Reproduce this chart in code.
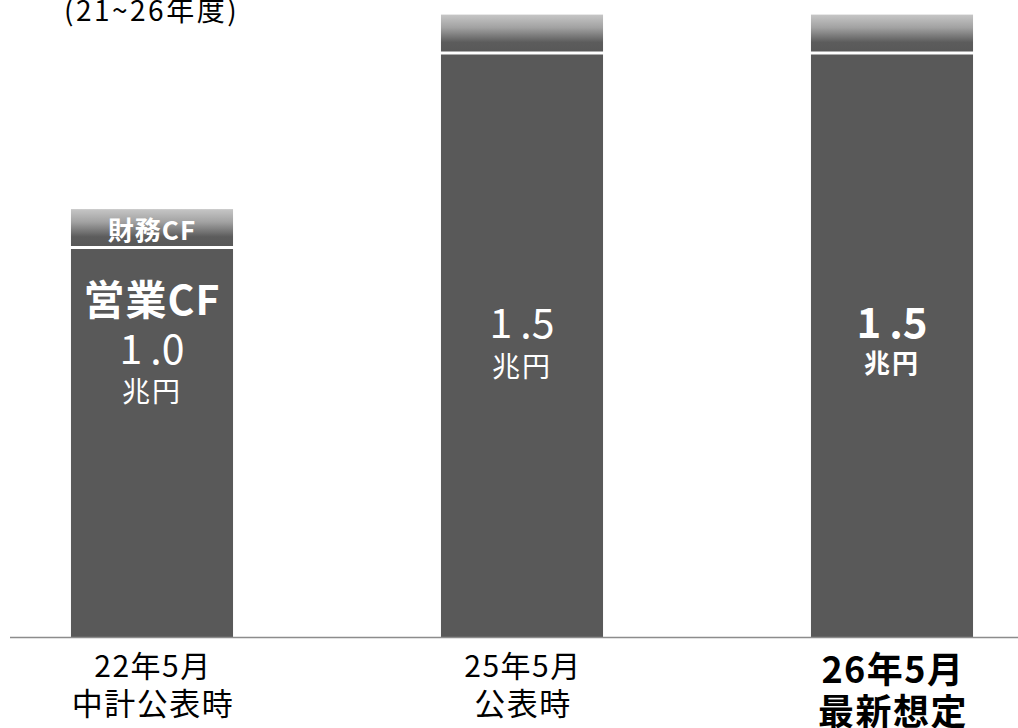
<!DOCTYPE html>
<html>
<head>
<meta charset="utf-8">
<script src="https://cdn.jsdelivr.net/npm/d3@7"></script>
<style>
  body { margin: 0; background: #fff; }
  text { font-family: "Noto Sans CJK JP", "Noto Sans", sans-serif; }
</style>
</head>
<body>
<script>
const categories = ["22年5月", "25年5月", "26年5月"];
const subLabels = ["中計公表時", "公表時", "最新想定"];
const operatingCF = [1.0, 1.5, 1.5];
const financeCF = [0.1, 0.1, 0.1];
const valueLabels = ["1.0", "1.5", "1.5"];
const emphasis = [false, false, true];

const width = 1018;
const height = 728;
const baseY = 637;

const svg = d3
  .select("body")
  .append("svg")
  .attr("width", width)
  .attr("height", height);

const defs = svg.append("defs");
const grad = defs
  .append("linearGradient")
  .attr("id", "finGrad")
  .attr("x1", 0)
  .attr("y1", 0)
  .attr("x2", 0)
  .attr("y2", 1);
grad.append("stop").attr("offset", "0%").attr("stop-color", "#c6c6c6");
grad.append("stop").attr("offset", "35%").attr("stop-color", "#a2a2a2");
grad.append("stop").attr("offset", "75%").attr("stop-color", "#5c5c5c");
grad.append("stop").attr("offset", "100%").attr("stop-color", "#585858");

const xScale = d3
  .scaleBand()
  .domain(categories)
  .range([-33, 1077])
  .paddingInner(0.562)
  .paddingOuter(0.281);

const yScale = d3
  .scaleLinear()
  .domain([0, 1.6])
  .range([baseY, baseY - 1.6 * 389]);

const data = categories.map((c, i) => ({
  cat: c,
  sub: subLabels[i],
  op: operatingCF[i],
  fin: financeCF[i],
  label: valueLabels[i],
  bold: emphasis[i],
  idx: i,
}));

const bw = xScale.bandwidth();
const mid = (d) => xScale(d.cat) + bw / 2;

// operating CF segment
svg
  .selectAll("rect.op")
  .data(data)
  .enter()
  .append("rect")
  .attr("class", "op")
  .attr("x", (d) => xScale(d.cat))
  .attr("y", (d) => yScale(d.op) + 1)
  .attr("width", bw)
  .attr("height", (d) => yScale(0) - yScale(d.op) - 1)
  .style("fill", "#595959");

// financing CF segment
svg
  .selectAll("rect.fin")
  .data(data)
  .enter()
  .append("rect")
  .attr("class", "fin")
  .attr("x", (d) => xScale(d.cat))
  .attr("y", (d) => yScale(d.op + d.fin))
  .attr("width", bw)
  .attr("height", (d) => yScale(d.op) - yScale(d.op + d.fin) - 2)
  .style("fill", "url(#finGrad)");

// axis line
svg
  .append("line")
  .attr("x1", 10)
  .attr("x2", width)
  .attr("y1", baseY + 0.5)
  .attr("y2", baseY + 0.5)
  .style("stroke", "#8c8c8c")
  .style("stroke-width", 1.5);

// labels inside the first bar
const first = data[0];
svg
  .append("text")
  .attr("x", mid(first))
  .attr("y", 240)
  .attr("text-anchor", "middle")
  .style("fill", "#fff")
  .style("font-weight", "bold")
  .style("font-size", "26px")
  .style("letter-spacing", "1px")
  .text("財務CF");

svg
  .append("text")
  .attr("x", mid(first))
  .attr("y", 315)
  .attr("text-anchor", "middle")
  .style("fill", "#fff")
  .style("font-weight", "bold")
  .style("font-size", "41px")
  .style("letter-spacing", "1px")
  .text("営業CF");

// value labels
const valueY = [364, 338, 338];
const unitY = [402, 377, 373];

const vals = svg
  .selectAll("text.val")
  .data(data)
  .enter()
  .append("text")
  .attr("class", "val")
  .attr("x", (d) => mid(d))
  .attr("y", (d) => valueY[d.idx])
  .attr("text-anchor", "middle")
  .style("fill", "#fff")
  .style("font-weight", (d) => (d.bold ? "bold" : "normal"))
  .style("font-size", (d) => (d.bold ? "42px" : "41px"));

vals.append("tspan").text((d) => d.label.slice(0, 1));
vals
  .append("tspan")
  .attr("dx", 8)
  .text((d) => d.label.slice(1));

svg
  .selectAll("text.unit")
  .data(data)
  .enter()
  .append("text")
  .attr("class", "unit")
  .attr("x", (d) => mid(d))
  .attr("y", (d) => unitY[d.idx])
  .attr("text-anchor", "middle")
  .style("fill", "#fff")
  .style("font-weight", (d) => (d.bold ? "bold" : "normal"))
  .style("font-size", (d) => (d.bold ? "26px" : "28px"))
  .style("letter-spacing", "2px")
  .text("兆円");

// category labels
svg
  .selectAll("text.cat")
  .data(data)
  .enter()
  .append("text")
  .attr("class", "cat")
  .attr("x", (d) => mid(d) + 1)
  .attr("y", (d) => (d.bold ? 683 : 677))
  .attr("text-anchor", "middle")
  .style("fill", "#000")
  .style("font-weight", (d) => (d.bold ? "bold" : "normal"))
  .style("font-size", (d) => (d.bold ? "36px" : "30px"))
  .style("letter-spacing", "1.5px")
  .text((d) => d.cat);

svg
  .selectAll("text.sub")
  .data(data)
  .enter()
  .append("text")
  .attr("class", "sub")
  .attr("x", (d) => mid(d) + 1)
  .attr("y", (d) => (d.bold ? 725 : 715))
  .attr("text-anchor", "middle")
  .style("fill", "#000")
  .style("font-weight", (d) => (d.bold ? "bold" : "normal"))
  .style("font-size", (d) => (d.bold ? "36px" : "31px"))
  .style("letter-spacing", "1.5px")
  .text((d) => d.sub);

// period note at top
svg
  .append("text")
  .attr("x", 64)
  .attr("y", 21)
  .style("fill", "#000")
  .style("font-size", "28px")
  .style("letter-spacing", "2.5px")
  .text("(21~26年度)");
</script>
</body>
</html>
